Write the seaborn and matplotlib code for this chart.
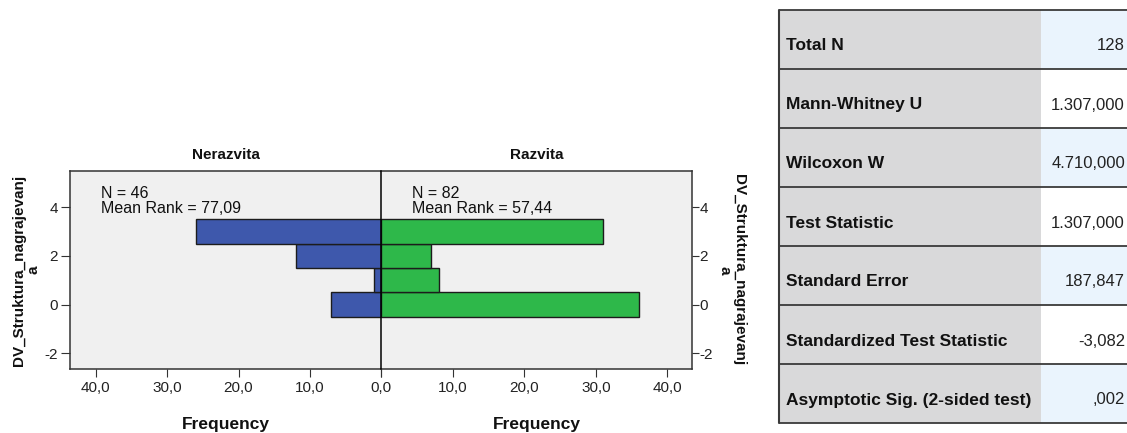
import numpy as np
import pandas as pd
import seaborn as sns
import matplotlib.pyplot as plt
from matplotlib.patches import Rectangle

sns.set_style('ticks')
plt.rcParams['font.family'] = ['Liberation Sans', 'DejaVu Sans']

# ---------------- data ----------------
scores = [0, 1, 2, 3]
freq_nerazvita = [7, 1, 12, 26]
freq_razvita = [36, 8, 7, 31]
groups = ['Nerazvita', 'Razvita']
group_n = [46, 82]
mean_ranks = ['77,09', '57,44']
y_label = 'DV_Struktura_nagrajevanj\na'
x_label = 'Frequency'
x_ticks = [0, 10, 20, 30, 40]
y_ticks = [-2, 0, 2, 4]
table_labels = ['Total N', 'Mann-Whitney U', 'Wilcoxon W', 'Test Statistic',
                'Standard Error', 'Standardized Test Statistic',
                'Asymptotic Sig. (2-sided test)']
table_values = ['128', '1.307,000', '4.710,000', '1.307,000', '187,847',
                '-3,082', ',002']

df = pd.DataFrame({
    'score': scores * 2,
    'freq': freq_nerazvita + freq_razvita,
    'group': [groups[0]] * len(scores) + [groups[1]] * len(scores),
})

# ---------------- layout ----------------
W, H = 1127, 433
fig = plt.figure(figsize=(W / 100, H / 100), dpi=100)


def fx(px):
    return px / W


def fy(py):
    return 1 - py / H


left_px, mid_px, right_px, top_px, bot_px = 70, 381.3, 691.7, 170.7, 369
ax_h = (bot_px - top_px) / H
axL = fig.add_axes([fx(left_px), fy(bot_px), fx(mid_px - left_px), ax_h])
axR = fig.add_axes([fx(mid_px), fy(bot_px), fx(right_px - mid_px), ax_h])

colors = ['#3E58AC', '#2EB84A']
frame_col = '#333333'

for ax, grp, col in zip((axL, axR), groups, colors):
    sns.barplot(data=df[df['group'] == grp], x='freq', y='score', orient='h',
                native_scale=True, width=1, color=col, saturation=1,
                edgecolor='#1c1c1c', linewidth=1.0, errorbar=None, ax=ax)
    ax.set_facecolor('#f0f0f0')
    ax.set_ylim(-2.65, 5.5)
    ax.set_xticks(x_ticks)
    ax.set_yticks(y_ticks)
    ax.set_yticklabels([str(v) for v in y_ticks], fontsize=11, color='#222222')
    ax.set_xlabel('')
    ax.set_ylabel('')
    for s in ax.spines.values():
        s.set_color(frame_col)
        s.set_linewidth(1.1)
    ax.tick_params(axis='x', length=6, width=0.8, color=frame_col, pad=3)
    ax.text(0.5, 1.0575, grp, transform=ax.transAxes, ha='center',
            va='baseline', fontsize=11, fontweight='bold', color='#111111')
    ax.text(0.5, -0.3026, x_label, transform=ax.transAxes, ha='center',
            va='baseline', fontsize=12.5, fontweight='bold', color='#111111')

axL.set_xticklabels([f'{v:.1f}'.replace('.', ',') for v in x_ticks],
                    fontsize=11, color='#222222')
axR.set_xticklabels(['' if v == 0 else f'{v:.1f}'.replace('.', ',')
                     for v in x_ticks], fontsize=11, color='#222222')

axL.set_xlim(43.6, 0)
axR.set_xlim(0, 43.4)

axL.tick_params(axis='y', left=True, right=False, length=6.5, width=0.8,
                color=frame_col, pad=2)
axL.spines['right'].set_visible(False)
axR.spines['left'].set_visible(False)
axR.axvline(0, color='black', lw=1.1, zorder=10, clip_on=False)
axR.yaxis.tick_right()
axR.tick_params(axis='y', right=True, left=False, length=5, width=0.8,
                color=frame_col, pad=0.5)

# annotations
for ax, n, mr in zip((axL, axR), group_n, mean_ranks):
    ax.text(0.1, 0.861, f'N = {n}', transform=ax.transAxes, ha='left',
            va='baseline', fontsize=11.5, color='#111111')
    ax.text(0.1, 0.785, f'Mean Rank = {mr}', transform=ax.transAxes,
            ha='left', va='baseline', fontsize=11.5, color='#111111')

# y labels
fig.text(fx(26.5), fy(270), y_label, rotation=90, ha='center', va='center',
         multialignment='center', fontsize=11, fontweight='bold',
         color='#111111', linespacing=1.05)
fig.text(fx(731.5), fy(270), y_label, rotation=270, ha='center', va='center',
         multialignment='center', fontsize=11, fontweight='bold',
         color='#111111', linespacing=1.05)

# ---------------- table ----------------
axT = fig.add_axes([0, 0, 1, 1])
axT.set_xlim(0, W)
axT.set_ylim(H, 0)
axT.axis('off')

t_left, t_mid, t_right, t_top, row_h = 779, 1041, 1145, 10, 59
for i, (lab, val) in enumerate(zip(table_labels, table_values)):
    y0 = t_top + i * row_h
    axT.add_patch(Rectangle((t_left, y0), t_mid - t_left, row_h,
                            facecolor='#d9d9da', edgecolor='none'))
    axT.add_patch(Rectangle((t_mid, y0), t_right - t_mid, row_h,
                            facecolor='#eaf4fd' if i % 2 == 0 else 'white',
                            edgecolor='none'))
    axT.text(t_left + 7, y0 + 40.5, lab, ha='left', va='baseline',
             fontsize=12.5, fontweight='bold', color='#111111')
    axT.text(1125, y0 + 40.5, val, ha='right', va='baseline', fontsize=12,
             color='#222222')
for i in range(len(table_labels) + 1):
    y = t_top + i * row_h
    axT.plot([t_left, t_right], [y, y], color='#3a3a3a', lw=1.3,
             solid_capstyle='butt')
axT.plot([t_left, t_left], [t_top, t_top + row_h * len(table_labels)],
         color='#3a3a3a', lw=1.5)

fig.savefig('out.png', dpi=100)
